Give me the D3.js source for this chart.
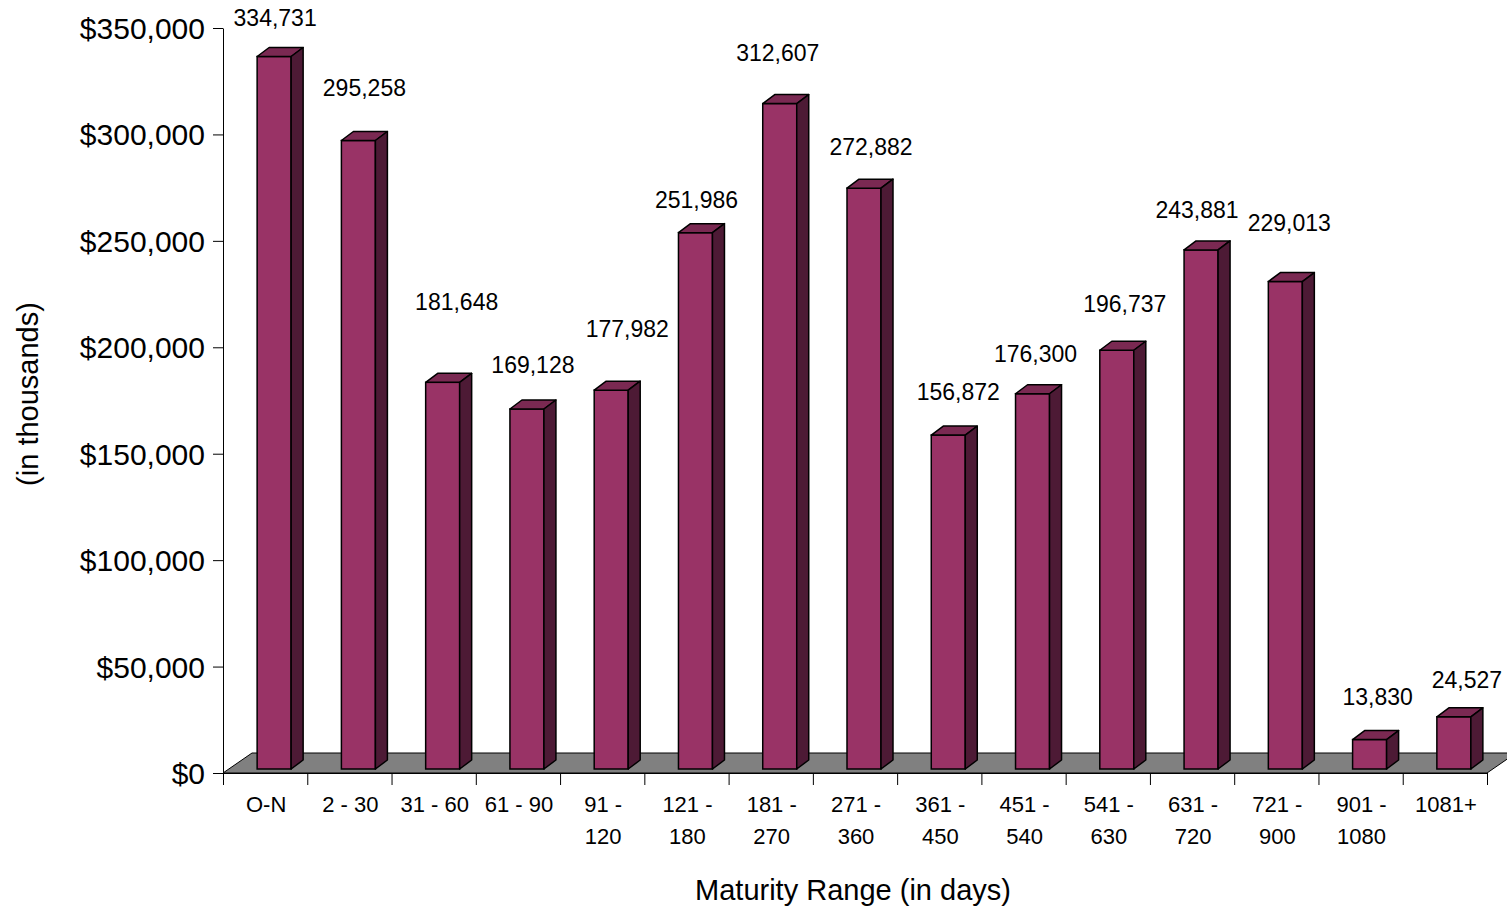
<!DOCTYPE html>
<html>
<head>
<meta charset="utf-8">
<script src="https://cdn.jsdelivr.net/npm/d3@7"></script>
<style>
  body { margin: 0; background: #fff; }
  svg text { font-family: Arial, "Liberation Sans", sans-serif; fill: #000; }
</style>
</head>
<body>
<div id="chart"></div>
<script>
// data
var categories = ["O-N", "2 - 30", "31 - 60", "61 - 90", "91 - 120", "121 - 180", "181 - 270",
  "271 - 360", "361 - 450", "451 - 540", "541 - 630", "631 - 720", "721 - 900", "901 - 1080", "1081+"];
var amounts = [334731, 295258, 181648, 169128, 177982, 251986, 312607,
  272882, 156872, 176300, 196737, 243881, 229013, 13830, 24527];
var yTicks = [0, 50000, 100000, 150000, 200000, 250000, 300000, 350000];

// label placement nudges (px), the original places them unevenly
var labelDx = [10, 15, 23, 15, 25, 10, 7, 16, 19, 12, 17, 5, 13, 17, 22];
var labelLift = [31, 45, 72, 36, 53, 25, 43, 33, 35, 32, 38, 32, 51, 35, 29];

var W = 1507, H = 908;
var X0 = 223, X1 = 1487, Y0 = 773, Y1 = 28;
var FLOOR_DX = 29, FLOOR_DY = -20;
var BAR_W = 34, DEPTH_DX = 12, DEPTH_DY = -9, BAR_LIFT = 4;

var svg = d3.select("#chart").append("svg")
  .attr("width", W)
  .attr("height", H);

var y = d3.scaleLinear().domain([0, 350000]).range([Y0, Y1]);
var x = d3.scaleBand().domain(categories).range([X0, X1]);
var xEdge = d3.scaleLinear().domain([0, categories.length]).range([X0, X1]);

// floor
svg.append("polygon")
  .attr("points", [[X0, Y0], [X1, Y0], [X1 + FLOOR_DX, Y0 + FLOOR_DY], [X0 + FLOOR_DX, Y0 + FLOOR_DY]].join(" "))
  .attr("fill", "#808080")
  .attr("stroke", "#000")
  .attr("stroke-width", 1);

// y axis
var yAxis = svg.append("g")
  .attr("transform", "translate(" + X0 + ",0)")
  .call(d3.axisLeft(y)
    .tickValues(yTicks)
    .tickSize(10)
    .tickSizeOuter(0)
    .tickPadding(8)
    .tickFormat(function(d) { return "$" + d3.format(",")(d); }));
yAxis.selectAll("text").style("font-size", "30px").attr("dy", "0.35em");
yAxis.selectAll("line, path").attr("stroke", "#000");

// x axis (ticks on category edges)
var xAxis = svg.append("g")
  .attr("transform", "translate(0," + Y0 + ")")
  .call(d3.axisBottom(xEdge)
    .ticks(categories.length)
    .tickSize(12)
    .tickSizeOuter(0)
    .tickFormat(""));
xAxis.selectAll("line, path").attr("stroke", "#000");

// bars
var bars = svg.selectAll("g.bar")
  .data(amounts)
  .enter().append("g")
  .attr("class", "bar");

function barLeft(i) { return x(categories[i]) + x.bandwidth() / 2 - 8; }

bars.append("rect")
  .attr("x", function(d, i) { return barLeft(i); })
  .attr("y", function(d) { return y(d) - BAR_LIFT; })
  .attr("width", BAR_W)
  .attr("height", function(d) { return y(0) - y(d); })
  .attr("fill", "#993366")
  .attr("stroke", "#000")
  .attr("stroke-width", 1.5);

bars.append("polygon")
  .attr("points", function(d, i) {
    var l = barLeft(i), t = y(d) - BAR_LIFT;
    return [[l, t], [l + BAR_W, t], [l + BAR_W + DEPTH_DX, t + DEPTH_DY], [l + DEPTH_DX, t + DEPTH_DY]].join(" ");
  })
  .attr("fill", "#7a2952")
  .attr("stroke", "#000")
  .attr("stroke-width", 1.5)
  .attr("stroke-linejoin", "round");

bars.append("polygon")
  .attr("points", function(d, i) {
    var r = barLeft(i) + BAR_W, t = y(d) - BAR_LIFT, b = y(0) - BAR_LIFT;
    return [[r, t], [r + DEPTH_DX, t + DEPTH_DY], [r + DEPTH_DX, b + DEPTH_DY], [r, b]].join(" ");
  })
  .attr("fill", "#4d1a35")
  .attr("stroke", "#000")
  .attr("stroke-width", 1.5)
  .attr("stroke-linejoin", "round");

// data labels
bars.append("text")
  .attr("x", function(d, i) { return x(categories[i]) + x.bandwidth() / 2 + labelDx[i]; })
  .attr("y", function(d, i) { return y(d) - BAR_LIFT - labelLift[i]; })
  .attr("text-anchor", "middle")
  .style("font-size", "23px")
  .text(function(d) { return d3.format(",")(d); });

// category labels, wrapped when too wide for the band
var catLabels = svg.append("g").selectAll("text")
  .data(categories)
  .enter().append("text")
  .attr("text-anchor", "middle")
  .attr("x", function(d) { return x(d) + x.bandwidth() / 2 + 1; })
  .attr("y", 812)
  .style("font-size", "22px")
  .text(function(d) { return d; });

catLabels.each(function(d) {
  var t = d3.select(this);
  if (this.getComputedTextLength() > 75) {
    var cut = d.lastIndexOf(" ");
    var cx = t.attr("x");
    t.text(null);
    t.append("tspan").attr("x", cx).text(d.slice(0, cut));
    t.append("tspan").attr("x", cx).attr("dy", 32).text(d.slice(cut + 1));
  }
});

// axis titles
svg.append("text")
  .attr("x", (X0 + X1) / 2 - 2)
  .attr("y", 900)
  .attr("text-anchor", "middle")
  .style("font-size", "29px")
  .text("Maturity Range (in days)");

svg.append("text")
  .attr("transform", "translate(38,394) rotate(-90)")
  .attr("text-anchor", "middle")
  .style("font-size", "29px")
  .text("(in thousands)");
</script>
</body>
</html>
